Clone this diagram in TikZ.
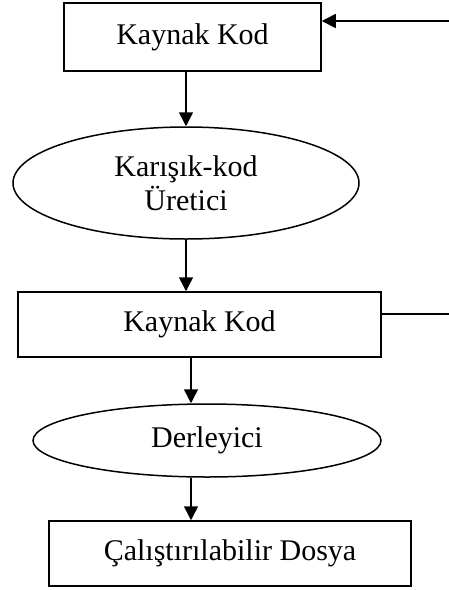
\documentclass[tikz,border=0pt]{standalone}
\usepackage{fontspec}
\setmainfont{Liberation Serif}
\usetikzlibrary{shapes.geometric,arrows.meta}
\begin{document}
\begin{tikzpicture}[x=1pt,y=-1pt,
  every node/.style={font=\fontsize{30}{34}\selectfont, inner sep=0pt, line width=1.5pt},
  stepbox/.style={draw, rectangle},
  procoval/.style={draw, ellipse, align=center},
  arr/.style={line width=1.5pt, -{Triangle[length=14pt,width=14pt]}},
  plain/.style={line width=1.5pt}]
\useasboundingbox (0,0) rectangle (449,590);

% process chain
\node[stepbox, minimum width=257pt, minimum height=68pt] (b1) at (192.5,37) {Kaynak Kod};
\node[procoval, minimum width=346pt, minimum height=112pt] (e1) at (186,183) {Karışık-kod\\Üretici};
\node[stepbox, minimum width=363pt, minimum height=65pt] (b2) at (199.5,324.5) {Kaynak Kod};
\node[procoval, minimum width=348pt, minimum height=73pt] (e2) at (207,440.5) {Derleyici};
\node[stepbox, minimum width=362pt, minimum height=65pt] (b3) at (230,553.5) {Çalıştırılabilir Dosya};

% feedback ends at the right margin
\coordinate (in1) at (449,21);
\coordinate (out2) at (449,314);

% connectors
\draw[arr] (b1.south -| e1.north) -- (e1.north);
\draw[arr] (e1.south) -- (e1.south |- b2.north);
\draw[arr] ([xshift=-8.5pt]b2.south) -- ([xshift=-8.5pt]b2.south |- e2.north);
\draw[arr] ([xshift=-16pt]e2.south) -- ([xshift=-16pt]e2.south |- b3.north);
\draw[arr] (in1) -- (in1 -| b1.east);
\draw[plain] (out2 -| b2.east) -- (out2);
\end{tikzpicture}
\end{document}
